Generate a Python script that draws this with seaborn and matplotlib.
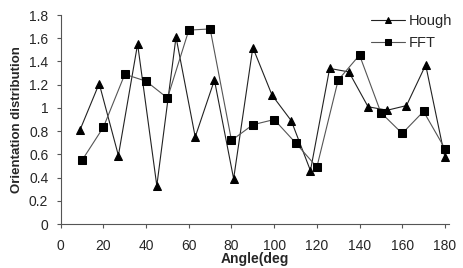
import matplotlib
matplotlib.use("Agg")
import matplotlib.pyplot as plt
import seaborn as sns
import pandas as pd

# angles (deg) and orientation distribution values
hough_angle = [9, 18, 27, 36, 45, 54, 63, 72, 81, 90, 99, 108, 117, 126, 135, 144, 153, 162, 171, 180]
hough_value = [0.81, 1.21, 0.59, 1.55, 0.33, 1.61, 0.75, 1.24, 0.39, 1.52,
               1.11, 0.89, 0.46, 1.34, 1.31, 1.01, 0.98, 1.02, 1.37, 0.575]
fft_angle = [10, 20, 30, 40, 50, 60, 70, 80, 90, 100, 110, 120, 130, 140, 150, 160, 170, 180]
fft_value = [0.55, 0.835, 1.29, 1.23, 1.085, 1.67, 1.68, 0.72, 0.855,
             0.90, 0.70, 0.49, 1.24, 1.455, 0.96, 0.78, 0.97, 0.65]

hough = pd.DataFrame({'angle': hough_angle, 'value': hough_value})
fft = pd.DataFrame({'angle': fft_angle, 'value': fft_value})

sns.set_style("ticks")
plt.rcParams['font.family'] = ['Liberation Sans', 'DejaVu Sans']

fig = plt.figure(figsize=(4.64, 2.68), dpi=100)
ax = fig.add_axes([0.131, 0.164, 0.837, 0.78])

sns.lineplot(data=hough, x='angle', y='value', ax=ax, color='#222222', lw=0.8,
             marker='^', markersize=6, markeredgecolor='black', markerfacecolor='black',
             label='Hough')
sns.lineplot(data=fft, x='angle', y='value', ax=ax, color='#555555', lw=0.8,
             marker='s', markersize=5.5, markeredgecolor='black', markerfacecolor='black',
             label='FFT')

ax.set_xlim(0, 182)
ax.set_ylim(0, 1.8)
ax.set_xticks(range(0, 181, 20))
ax.set_yticks([0, 0.2, 0.4, 0.6, 0.8, 1, 1.2, 1.4, 1.6, 1.8])
ax.set_yticklabels(['0', '0.2', '0.4', '0.6', '0.8', '1', '1.2', '1.4', '1.6', '1.8'])
ax.tick_params(labelsize=10, length=3, width=0.8, color='#555555')
ax.tick_params(axis='x', pad=8)
ax.tick_params(axis='y', pad=6)
for s in ['left', 'bottom']:
    ax.spines[s].set_color('#555555')
    ax.spines[s].set_linewidth(0.8)
sns.despine(ax=ax)

ax.set_xlabel('Angle(deg', fontsize=10, fontweight='bold', labelpad=-1)
ax.set_ylabel('Orientation distribution', fontsize=9.5, fontweight='bold', labelpad=4)

ax.legend(loc='upper left', bbox_to_anchor=(0.80, 0.948), bbox_transform=fig.transFigure,
          frameon=False, fontsize=10.5, borderpad=0, borderaxespad=0,
          handlelength=2.3, handletextpad=0.3, labelspacing=0.55, markerscale=0.75)

fig.savefig('out.png', dpi=100)
